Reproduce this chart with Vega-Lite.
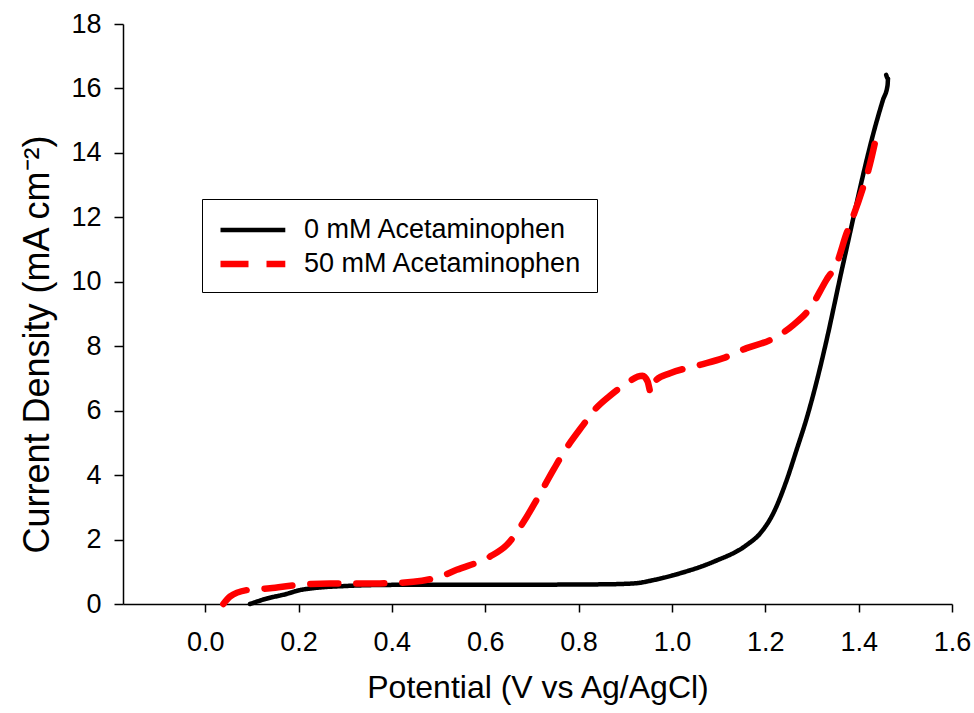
{
  "$schema": "https://vega.github.io/schema/vega-lite/v6.json",
  "width": 829,
  "height": 580,
  "autosize": {"type": "none"},
  "padding": {"left": 123, "top": 24, "right": 22, "bottom": 109},
  "background": "white",
  "data": {
    "values": [
      {"s": "0 mM Acetaminophen", "i": 1, "v": 0.096, "j": 0},
      {"s": "0 mM Acetaminophen", "i": 2, "v": 0.13, "j": 0.16},
      {"s": "0 mM Acetaminophen", "i": 3, "v": 0.174, "j": 0.31},
      {"s": "0 mM Acetaminophen", "i": 4, "v": 0.203, "j": 0.43},
      {"s": "0 mM Acetaminophen", "i": 5, "v": 0.231, "j": 0.49},
      {"s": "0 mM Acetaminophen", "i": 6, "v": 0.303, "j": 0.56},
      {"s": "0 mM Acetaminophen", "i": 7, "v": 0.374, "j": 0.59},
      {"s": "0 mM Acetaminophen", "i": 8, "v": 0.5, "j": 0.6},
      {"s": "0 mM Acetaminophen", "i": 9, "v": 0.7, "j": 0.6},
      {"s": "0 mM Acetaminophen", "i": 10, "v": 0.85, "j": 0.61},
      {"s": "0 mM Acetaminophen", "i": 11, "v": 0.92, "j": 0.64},
      {"s": "0 mM Acetaminophen", "i": 12, "v": 0.96, "j": 0.74},
      {"s": "0 mM Acetaminophen", "i": 13, "v": 1.017, "j": 0.95},
      {"s": "0 mM Acetaminophen", "i": 14, "v": 1.089, "j": 1.31},
      {"s": "0 mM Acetaminophen", "i": 15, "v": 1.16, "j": 1.83},
      {"s": "0 mM Acetaminophen", "i": 16, "v": 1.189, "j": 2.19},
      {"s": "0 mM Acetaminophen", "i": 17, "v": 1.217, "j": 2.81},
      {"s": "0 mM Acetaminophen", "i": 18, "v": 1.246, "j": 3.85},
      {"s": "0 mM Acetaminophen", "i": 19, "v": 1.267, "j": 4.78},
      {"s": "0 mM Acetaminophen", "i": 20, "v": 1.289, "j": 5.78},
      {"s": "0 mM Acetaminophen", "i": 21, "v": 1.31, "j": 6.9},
      {"s": "0 mM Acetaminophen", "i": 22, "v": 1.328, "j": 7.98},
      {"s": "0 mM Acetaminophen", "i": 23, "v": 1.367, "j": 10.57},
      {"s": "0 mM Acetaminophen", "i": 24, "v": 1.439, "j": 15.0},
      {"s": "0 mM Acetaminophen", "i": 25, "v": 1.452, "j": 15.64},
      {"s": "0 mM Acetaminophen", "i": 26, "v": 1.462, "j": 16.1},
      {"s": "0 mM Acetaminophen", "i": 27, "v": 1.463, "j": 16.3},
      {"s": "0 mM Acetaminophen", "i": 28, "v": 1.459, "j": 16.42},
      {"s": "50 mM Acetaminophen", "i": 1, "v": 0.039, "j": 0},
      {"s": "50 mM Acetaminophen", "i": 2, "v": 0.053, "j": 0.23},
      {"s": "50 mM Acetaminophen", "i": 3, "v": 0.089, "j": 0.43},
      {"s": "50 mM Acetaminophen", "i": 4, "v": 0.139, "j": 0.49},
      {"s": "50 mM Acetaminophen", "i": 5, "v": 0.196, "j": 0.59},
      {"s": "50 mM Acetaminophen", "i": 6, "v": 0.267, "j": 0.64},
      {"s": "50 mM Acetaminophen", "i": 7, "v": 0.374, "j": 0.64},
      {"s": "50 mM Acetaminophen", "i": 8, "v": 0.446, "j": 0.69},
      {"s": "50 mM Acetaminophen", "i": 9, "v": 0.503, "j": 0.85},
      {"s": "50 mM Acetaminophen", "i": 10, "v": 0.539, "j": 1.06},
      {"s": "50 mM Acetaminophen", "i": 11, "v": 0.61, "j": 1.47},
      {"s": "50 mM Acetaminophen", "i": 12, "v": 0.646, "j": 1.83},
      {"s": "50 mM Acetaminophen", "i": 13, "v": 0.689, "j": 2.71},
      {"s": "50 mM Acetaminophen", "i": 14, "v": 0.71, "j": 3.23},
      {"s": "50 mM Acetaminophen", "i": 15, "v": 0.746, "j": 4.16},
      {"s": "50 mM Acetaminophen", "i": 16, "v": 0.767, "j": 4.68},
      {"s": "50 mM Acetaminophen", "i": 17, "v": 0.81, "j": 5.56},
      {"s": "50 mM Acetaminophen", "i": 18, "v": 0.837, "j": 6.07},
      {"s": "50 mM Acetaminophen", "i": 19, "v": 0.866, "j": 6.45},
      {"s": "50 mM Acetaminophen", "i": 20, "v": 0.896, "j": 6.78},
      {"s": "50 mM Acetaminophen", "i": 21, "v": 0.937, "j": 7.08},
      {"s": "50 mM Acetaminophen", "i": 22, "v": 0.948, "j": 6.9},
      {"s": "50 mM Acetaminophen", "i": 23, "v": 0.955, "j": 6.55},
      {"s": "50 mM Acetaminophen", "i": 24, "v": 0.96, "j": 6.75},
      {"s": "50 mM Acetaminophen", "i": 25, "v": 0.966, "j": 6.95},
      {"s": "50 mM Acetaminophen", "i": 26, "v": 0.996, "j": 7.16},
      {"s": "50 mM Acetaminophen", "i": 27, "v": 1.06, "j": 7.42},
      {"s": "50 mM Acetaminophen", "i": 28, "v": 1.11, "j": 7.63},
      {"s": "50 mM Acetaminophen", "i": 29, "v": 1.16, "j": 7.94},
      {"s": "50 mM Acetaminophen", "i": 30, "v": 1.21, "j": 8.19},
      {"s": "50 mM Acetaminophen", "i": 31, "v": 1.26, "j": 8.66},
      {"s": "50 mM Acetaminophen", "i": 32, "v": 1.296, "j": 9.18},
      {"s": "50 mM Acetaminophen", "i": 33, "v": 1.331, "j": 10.06},
      {"s": "50 mM Acetaminophen", "i": 34, "v": 1.353, "j": 10.57},
      {"s": "50 mM Acetaminophen", "i": 35, "v": 1.374, "j": 11.5},
      {"s": "50 mM Acetaminophen", "i": 36, "v": 1.388, "j": 12.02},
      {"s": "50 mM Acetaminophen", "i": 37, "v": 1.41, "j": 12.95},
      {"s": "50 mM Acetaminophen", "i": 38, "v": 1.421, "j": 13.47},
      {"s": "50 mM Acetaminophen", "i": 39, "v": 1.437, "j": 14.45}
    ]
  },
  "mark": {"type": "line", "strokeCap": "round", "strokeJoin": "round", "interpolate": "monotone"},
  "encoding": {
    "x": {
      "field": "v", "type": "quantitative",
      "scale": {"domain": [-0.176, 1.6], "nice": false, "zero": false},
      "axis": {
        "title": "Potential (V vs Ag/AgCl)",
        "values": [0, 0.2, 0.4, 0.6, 0.8, 1.0, 1.2, 1.4, 1.6],
        "format": ".1f",
        "labelFlush": false,
        "tickSize": 8,
        "labelPadding": 17,
        "titleFontSize": 32,
        "titleBaseline": "alphabetic",
        "titleY": 93
      }
    },
    "y": {
      "field": "j", "type": "quantitative",
      "scale": {"domain": [0, 18], "nice": false},
      "axis": {
        "title": "Current Density (mA cm⁻²)",
        "values": [0, 2, 4, 6, 8, 10, 12, 14, 16, 18],
        "labelFlush": false,
        "tickSize": 9,
        "labelPadding": 13,
        "titleFontSize": 36,
        "titleAngle": -90,
        "titleBaseline": "middle",
        "titleX": -86,
        "titleY": 320
      }
    },
    "order": {"field": "i", "type": "quantitative"},
    "color": {
      "field": "s", "type": "nominal",
      "scale": {"domain": ["0 mM Acetaminophen", "50 mM Acetaminophen"], "range": ["#000000", "#ff0000"]},
      "legend": {"title": null}
    },
    "strokeDash": {
      "field": "s", "type": "nominal",
      "scale": {"domain": ["0 mM Acetaminophen", "50 mM Acetaminophen"], "range": [[1, 0], [28, 18]]},
      "legend": {"title": null}
    },
    "strokeWidth": {
      "field": "s", "type": "nominal",
      "scale": {"domain": ["0 mM Acetaminophen", "50 mM Acetaminophen"], "range": [4.5, 6.5]},
      "legend": {"title": null}
    }
  },
  "config": {
    "view": {"stroke": null},
    "font": "Liberation Sans",
    "axis": {
      "grid": false,
      "domainColor": "#000000",
      "domainWidth": 1.5,
      "tickColor": "#000000",
      "tickWidth": 1.5,
      "labelFont": "Liberation Sans",
      "labelFontSize": 27,
      "labelColor": "#000000",
      "titleFont": "Liberation Sans",
      "titleFontWeight": "normal",
      "titleColor": "#000000"
    },
    "legend": {
      "orient": "none",
      "legendX": 79,
      "legendY": 175,
      "direction": "vertical",
      "strokeColor": "#000000",
      "padding": 15,
      "symbolType": "M-1,0H3.8",
      "symbolSize": 729,
      "labelFont": "Liberation Sans",
      "labelFontSize": 27,
      "labelColor": "#000000",
      "labelOffset": 53,
      "labelLimit": 0,
      "rowPadding": 4
    }
  }
}
